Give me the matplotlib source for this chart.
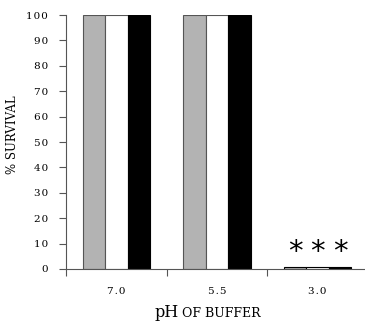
import numpy as np
import matplotlib
matplotlib.use('Agg')
import matplotlib.pyplot as plt

ph_labels = ['7.0', '5.5', '3.0']
survival_grey = [100, 100, 0.8]
survival_white = [100, 100, 0.8]
survival_black = [100, 100, 0.8]
y_ticks = [0, 10, 20, 30, 40, 50, 60, 70, 80, 90, 100]

plt.rcParams['font.family'] = ['DejaVu Serif']

fig = plt.figure(figsize=(3.65, 3.21), dpi=100)
ax = fig.add_axes([0.181, 0.162, 0.827, 0.791])

x = np.arange(len(ph_labels))
w = 0.223
edge = '#555555'
# tiny bars at pH 3.0 show up as one dark line
edges = [edge, edge, 'black']
ax.bar(x - w, survival_grey, w, color='#b3b3b3', edgecolor=edges, linewidth=0.8)
ax.bar(x, survival_white, w, color='white', edgecolor=edges, linewidth=0.8)
ax.bar(x + w, survival_black, w, color='black', edgecolor='black', linewidth=0.8)

# asterisks above the pH 3.0 group
for dx in (-w, 0, w):
    ax.text(x[2] + dx, 6.6, '*', ha='center', va='center', fontsize=21,
            family='DejaVu Sans')

hs = '\u200a'
ax.set_xlim(-0.5, 2.5)
ax.set_ylim(0, 100)
ax.set_yticks(y_ticks)
ax.set_yticklabels([hs.join(str(t)) for t in y_ticks], fontsize=7.5)
ax.set_xticks([-0.5, 0.5, 1.5, 2.5])
ax.set_xticklabels([])
ax.set_xticks(x, minor=True)
ax.set_xticklabels([hs.join(s) for s in ph_labels], minor=True, fontsize=7.5)
ax.tick_params(axis='x', which='minor', length=0, pad=13)
ax.tick_params(axis='both', which='major', length=5, width=0.8, color=edge)
ax.tick_params(axis='y', pad=8)
for s in ['top', 'right']:
    ax.spines[s].set_visible(False)
for s in ['left', 'bottom']:
    ax.spines[s].set_color(edge)
    ax.spines[s].set_linewidth(0.8)

fig.text(0.035, 0.58, '% SURVIVAL', rotation=90, ha='center', va='center',
         fontsize=8.5)
fig.text(0.49, 0.012, 'pH', ha='right', va='baseline', fontsize=11.5)
fig.text(0.50, 0.012, 'OF BUFFER', ha='left', va='baseline', fontsize=9)

fig.savefig('out.png', dpi=100)
